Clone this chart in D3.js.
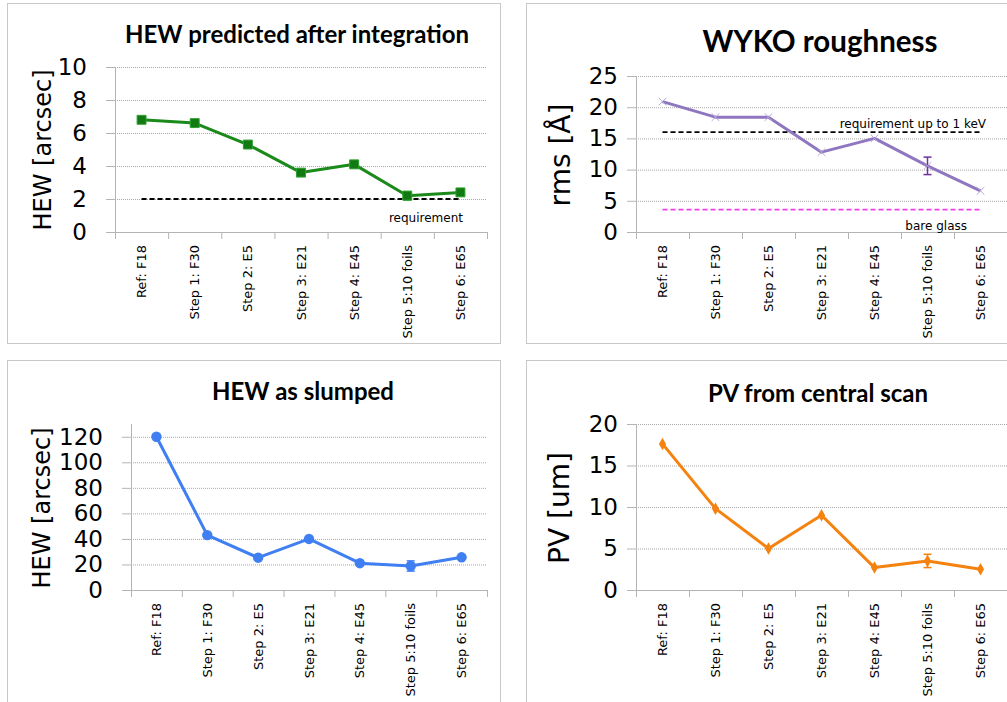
<!DOCTYPE html>
<html>
<head>
<meta charset="utf-8">
<script src="https://cdn.jsdelivr.net/npm/d3@7"></script>
<style>
  body { margin: 0; background: #fff; }
  svg { display: block; }
  .title { font-family: Lato, "Open Sans", sans-serif; font-weight: bold; fill: #000; }
  .tick text { font-family: "DejaVu Sans", sans-serif; fill: #000; }
  .ylabel { font-family: "DejaVu Sans", sans-serif; fill: #000; }
  .note { font-family: "DejaVu Sans", sans-serif; font-size: 12px; fill: #000; }
</style>
</head>
<body>
<svg id="chart" width="1007" height="702"></svg>
<script>
// categories shared by all four panels
const categories = ["Ref: F18", "Step 1: F30", "Step 2: E5", "Step 3: E21", "Step 4: E45", "Step 5:10 foils", "Step 6: E65"];

// HEW predicted after integration
const hewPredicted = [6.8, 6.6, 5.3, 3.6, 4.1, 2.2, 2.4];
const hewPredictedErr = [0, 0, 0, 0, 0, 0.25, 0];
const hewRequirement = 2;
const hewPredictedTicks = [0, 2, 4, 6, 8, 10];

// WYKO roughness
const wykoRms = [20.9, 18.4, 18.4, 12.8, 15.0, 10.6, 6.6];
const wykoErr = [0, 0, 0, 0, 0, 1.4, 0];
const wykoRequirement = 16;
const bareGlass = 3.6;
const wykoTicks = [0, 5, 10, 15, 20, 25];

// HEW as slumped
const hewSlumped = [120, 43, 25.3, 40, 21, 18.8, 25.6];
const hewSlumpedErr = [0, 0, 0, 0, 0, 4, 0];
const hewSlumpedTicks = [0, 20, 40, 60, 80, 100, 120];

// PV from central scan
const pvCentral = [17.6, 9.8, 5.0, 9.0, 2.7, 3.5, 2.5];
const pvErr = [0, 0, 0, 0, 0, 0.8, 0];
const pvTicks = [0, 5, 10, 15, 20];

let svg = d3.select("#chart");

// panel frames
svg.append("rect").attr("x", 7.5).attr("y", 3.5).attr("width", 493).attr("height", 340)
    .attr("fill", "none").attr("stroke", "#c8c8c8");
svg.append("rect").attr("x", 526.5).attr("y", 3.5).attr("width", 500).attr("height", 340)
    .attr("fill", "none").attr("stroke", "#c8c8c8");
svg.append("rect").attr("x", 7.5).attr("y", 360.5).attr("width", 493).attr("height", 360)
    .attr("fill", "none").attr("stroke", "#c8c8c8");
svg.append("rect").attr("x", 526.5).attr("y", 360.5).attr("width", 500).attr("height", 360)
    .attr("fill", "none").attr("stroke", "#c8c8c8");

function drawPanel(cfg) {
    let g = svg.append("g");

    let x = d3.scaleBand()
                .domain(categories)
                .range([cfg.left, cfg.right]);

    let y = d3.scaleLinear()
                .domain([0, cfg.yMax])
                .range([cfg.bottom, cfg.top]);

    let cx = d => x(d) + x.bandwidth() / 2;

    // dotted gridlines
    g.append("g")
        .attr("transform", `translate(${cfg.left},0)`)
        .call(d3.axisLeft(y).tickValues(cfg.ticks.filter(t => t > 0)).tickSize(-(cfg.right - cfg.left)).tickFormat(""))
        .call(a => a.select(".domain").remove())
        .selectAll("line")
            .attr("stroke", "#a8a8a8")
            .attr("stroke-dasharray", "1,1");

    // y axis with labels
    g.append("g")
        .attr("transform", `translate(${cfg.left},0)`)
        .call(d3.axisLeft(y).tickValues(cfg.ticks).tickSize(9).tickPadding(cfg.tickPad))
        .call(a => a.select(".domain").remove())
        .call(a => a.selectAll("line").attr("stroke", "#b4b4b4"))
        .call(a => a.selectAll("text").style("font-size", cfg.tickFont + "px"));

    g.append("line")
        .attr("x1", cfg.left + 0.5).attr("x2", cfg.left + 0.5)
        .attr("y1", y(cfg.yMax)).attr("y2", cfg.bottom)
        .attr("stroke", "#b4b4b4");

    // x axis: baseline, boundary ticks, rotated labels
    g.append("line")
        .attr("x1", cfg.left).attr("x2", cfg.right)
        .attr("y1", cfg.bottom + 0.5).attr("y2", cfg.bottom + 0.5)
        .attr("stroke", "#b4b4b4");

    g.selectAll(".xtick")
        .data(categories.concat(["end"]))
        .enter()
        .append("line")
            .attr("x1", d => (d === "end" ? cfg.right : x(d)) + 0.5)
            .attr("x2", d => (d === "end" ? cfg.right : x(d)) + 0.5)
            .attr("y1", cfg.bottom)
            .attr("y2", cfg.bottom + 7)
            .attr("stroke", "#b4b4b4");

    g.append("g")
        .attr("transform", `translate(0,${cfg.bottom})`)
        .call(d3.axisBottom(x).tickSize(0))
        .call(a => a.select(".domain").remove())
        .selectAll("text")
            .style("font-family", "'DejaVu Sans', sans-serif")
            .style("font-size", "13px")
            .style("text-anchor", "end")
            .attr("transform", "rotate(-90)")
            .attr("x", -13)
            .attr("y", 0)
            .attr("dy", "0.35em");

    // y axis title
    g.append("text")
        .classed("ylabel", true)
        .attr("transform", `translate(${cfg.yLabelX},${cfg.yLabelY}) rotate(-90)`)
        .style("text-anchor", "middle")
        .style("font-size", cfg.yLabelFont + "px")
        .text(cfg.yLabel);

    // chart title
    g.append("text")
        .classed("title", true)
        .attr("x", cfg.titleX)
        .attr("y", cfg.titleY)
        .style("text-anchor", "middle")
        .style("font-size", cfg.titleFont + "px")
        .text(cfg.title);

    // reference lines
    (cfg.refs || []).forEach(r => {
        g.append("line")
            .attr("x1", cx(categories[0]))
            .attr("x2", cx(categories[categories.length - 1]))
            .attr("y1", y(r.value))
            .attr("y2", y(r.value))
            .attr("stroke", r.color)
            .attr("stroke-width", 1.8)
            .attr("stroke-dasharray", "5,3");
        g.append("text")
            .classed("note", true)
            .attr("x", r.labelX)
            .attr("y", y(r.value) + r.labelDy)
            .style("text-anchor", "end")
            .text(r.label);
    });

    let rows = categories.map((c, i) => ({ c: c, v: cfg.values[i], e: cfg.errors[i] }));

    // data line
    g.append("path")
        .datum(rows)
        .attr("fill", "none")
        .attr("stroke", cfg.color)
        .attr("stroke-width", 3)
        .attr("stroke-linejoin", "round")
        .attr("d", d3.line().x(d => cx(d.c)).y(d => y(d.v)));

    // error bars
    let err = g.selectAll(".err")
                .data(rows.filter(d => d.e > 0))
                .enter()
                .append("g")
                    .attr("stroke", cfg.errColor)
                    .attr("stroke-width", 1.5);
    err.append("line")
        .attr("x1", d => cx(d.c)).attr("x2", d => cx(d.c))
        .attr("y1", d => y(d.v - d.e)).attr("y2", d => y(d.v + d.e));
    err.append("line")
        .attr("x1", d => cx(d.c) - 4).attr("x2", d => cx(d.c) + 4)
        .attr("y1", d => y(d.v - d.e)).attr("y2", d => y(d.v - d.e));
    err.append("line")
        .attr("x1", d => cx(d.c) - 4).attr("x2", d => cx(d.c) + 4)
        .attr("y1", d => y(d.v + d.e)).attr("y2", d => y(d.v + d.e));

    // markers
    let m = g.selectAll(".mark")
                .data(rows)
                .enter()
                .append("path")
                    .attr("transform", d => `translate(${cx(d.c)},${y(d.v)})`);
    if (cfg.marker === "square") {
        m.attr("d", d3.symbol(d3.symbolSquare, 80))
            .attr("fill", "#127a12").attr("stroke", "#2ea02e").attr("stroke-width", 1);
    } else if (cfg.marker === "circle") {
        m.attr("d", d3.symbol(d3.symbolCircle, 85))
            .attr("fill", cfg.color);
    } else if (cfg.marker === "diamond") {
        m.attr("d", d3.symbol(d3.symbolDiamond, 45))
            .attr("fill", cfg.color);
    } else {
        m.attr("d", d3.symbol(d3.symbolX, 40))
            .attr("fill", "none").attr("stroke", "#b8a8d8").attr("stroke-width", 1);
    }
}

drawPanel({
    title: "HEW predicted after integration", titleX: 297, titleY: 43, titleFont: 24,
    yLabel: "HEW [arcsec]", yLabelX: 51, yLabelY: 150, yLabelFont: 24,
    left: 115, right: 487, top: 67, bottom: 232, yMax: 10,
    ticks: hewPredictedTicks, tickFont: 23, tickPad: 19,
    values: hewPredicted, errors: hewPredictedErr,
    color: "#1b8a1b", errColor: "#1b8a1b", marker: "square",
    refs: [{ value: hewRequirement, color: "#000", label: "requirement", labelX: 463, labelDy: 23 }]
});

drawPanel({
    title: "WYKO roughness", titleX: 820, titleY: 52, titleFont: 29.5,
    yLabel: "rms [Å]", yLabelX: 570, yLabelY: 155, yLabelFont: 28,
    left: 636, right: 1007, top: 76, bottom: 232, yMax: 25,
    ticks: wykoTicks, tickFont: 23, tickPad: 9,
    values: wykoRms, errors: wykoErr,
    color: "#8f76c0", errColor: "#7030a0", marker: "x",
    refs: [
        { value: wykoRequirement, color: "#000", label: "requirement up to 1 keV", labelX: 986, labelDy: -4 },
        { value: bareGlass, color: "#f040f0", label: "bare glass", labelX: 967, labelDy: 20 }
    ]
});

drawPanel({
    title: "HEW as slumped", titleX: 303, titleY: 400, titleFont: 24,
    yLabel: "HEW [arcsec]", yLabelX: 50, yLabelY: 508, yLabelFont: 24,
    left: 131, right: 487, top: 424, bottom: 590, yMax: 130,
    ticks: hewSlumpedTicks, tickFont: 23, tickPad: 19,
    values: hewSlumped, errors: hewSlumpedErr,
    color: "#3f7ff2", errColor: "#3f7ff2", marker: "circle"
});

drawPanel({
    title: "PV from central scan", titleX: 818, titleY: 402, titleFont: 24,
    yLabel: "PV [um]", yLabelX: 569, yLabelY: 508, yLabelFont: 28,
    left: 636, right: 1007, top: 424, bottom: 590, yMax: 20,
    ticks: pvTicks, tickFont: 23, tickPad: 9,
    values: pvCentral, errors: pvErr,
    color: "#f5820f", errColor: "#f5820f", marker: "diamond"
});
</script>
</body>
</html>
